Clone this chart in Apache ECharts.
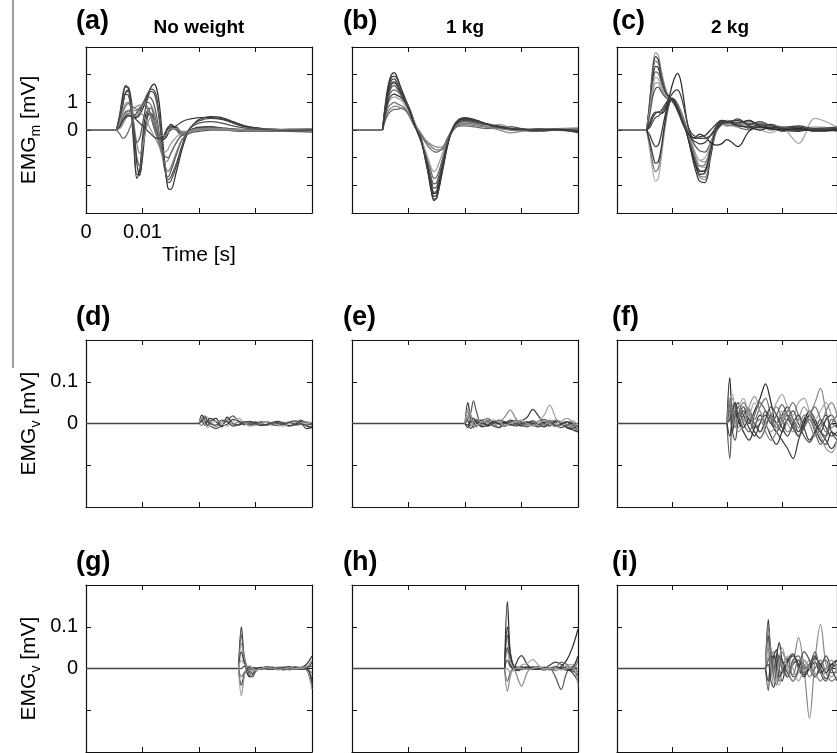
<!DOCTYPE html>
<html><head><meta charset="utf-8">
<script src="https://cdn.jsdelivr.net/npm/echarts@6/dist/echarts.min.js"></script>
<style>html,body{margin:0;padding:0;background:#fff}#c{width:837px;height:753px}</style>
</head><body><div id="c"></div>
<script>
// ---------- time grids (s), starting at stimulus onset ----------
const T1 = [0.0054, 0.006, 0.0065, 0.007, 0.0075, 0.008, 0.0085, 0.009, 0.0095, 0.010, 0.0105, 0.011, 0.0115, 0.012, 0.0125, 0.013, 0.0135, 0.014, 0.0145, 0.015, 0.016, 0.017, 0.018, 0.019, 0.020, 0.022, 0.024, 0.026, 0.028, 0.030, 0.033, 0.036, 0.040];
const T2 = [0.020, 0.0205, 0.021, 0.0215, 0.022, 0.023, 0.024, 0.025, 0.026, 0.027, 0.028, 0.029, 0.030, 0.031, 0.032, 0.033, 0.034, 0.035, 0.036, 0.037, 0.038, 0.039, 0.040];
const T3 = [0.027, 0.0275, 0.028, 0.0285, 0.029, 0.0295, 0.030, 0.031, 0.032, 0.033, 0.034, 0.035, 0.036, 0.037, 0.038, 0.039, 0.040];

// ---------- (a) No weight, EMG_m [mV] ----------
const tracesA = [
 [0, 0.6, 1.25, 1.6, 1.5, 0.7, -0.7, -1.75, -1.45, -0.3, 0.5, 0.7, 0.5, 0.15, -0.15, -0.3, -0.3, -0.15, 0.05, 0.2, 0.05, -0.15, -0.1, 0.0, 0.08, 0.12, 0.08, 0.04, 0.02, 0.0, -0.02, 0.0, 0.02],
 [0, 0.5, 1.15, 1.55, 1.55, 0.9, -0.4, -1.6, -1.6, -0.6, 0.3, 0.6, 0.45, 0.1, -0.2, -0.35, -0.3, -0.1, 0.1, 0.15, 0.0, -0.2, -0.15, -0.05, 0.0, 0.05, 0.05, 0.02, 0.0, -0.03, -0.05, -0.03, -0.05],
 [0, 0.4, 0.95, 1.35, 1.4, 0.95, 0.0, -1.0, -1.3, -0.7, 0.2, 0.7, 0.8, 0.5, 0.1, -0.2, -0.35, -0.3, -0.1, 0.05, 0.0, -0.15, -0.1, 0.0, 0.05, 0.1, 0.06, 0.03, 0.0, -0.02, 0.0, 0.02, 0.0],
 [0, 0.35, 0.9, 1.35, 1.45, 1.1, 0.1, -1.2, -1.65, -1.0, 0.0, 0.55, 0.6, 0.35, 0.0, -0.25, -0.35, -0.3, -0.15, 0.1, 0.1, -0.1, -0.05, 0.05, 0.1, 0.1, 0.05, 0.0, -0.02, -0.04, -0.02, 0.0, -0.03],
 [0, 0.15, 0.35, 0.5, 0.55, 0.5, 0.45, 0.45, 0.55, 0.75, 1.0, 1.3, 1.55, 1.66, 1.5, 0.9, -0.2, -1.3, -2.1, -2.15, -1.5, -0.7, -0.1, 0.2, 0.38, 0.48, 0.45, 0.3, 0.15, 0.08, 0.03, 0.0, 0.0],
 [0, 0.2, 0.45, 0.65, 0.7, 0.6, 0.5, 0.5, 0.65, 0.9, 1.15, 1.35, 1.48, 1.45, 1.2, 0.5, -0.5, -1.4, -1.9, -1.85, -1.3, -0.6, -0.05, 0.2, 0.33, 0.42, 0.38, 0.25, 0.12, 0.05, 0.0, -0.02, 0.0],
 [0, 0.1, 0.3, 0.5, 0.6, 0.6, 0.55, 0.6, 0.75, 0.95, 1.1, 1.2, 1.15, 0.95, 0.5, -0.2, -0.9, -1.5, -1.7, -1.5, -0.9, -0.35, -0.15, -0.08, -0.05, 0.0, 0.0, -0.03, -0.05, -0.05, -0.03, -0.05, -0.08],
 [0, 0.25, 0.6, 0.85, 0.95, 0.9, 0.8, 0.75, 0.8, 0.9, 1.0, 1.0, 0.9, 0.65, 0.25, -0.3, -0.85, -1.3, -1.5, -1.35, -0.8, -0.35, -0.15, 0.0, 0.05, 0.08, 0.05, 0.0, -0.02, -0.02, 0.0, 0.03, 0.05],
 [0, 0.2, 0.45, 0.6, 0.7, 0.75, 0.8, 0.85, 0.9, 0.9, 0.85, 0.7, 0.45, 0.15, -0.2, -0.6, -0.95, -1.15, -1.1, -0.85, -0.45, -0.2, -0.1, -0.05, 0.0, 0.05, 0.05, 0.02, 0.0, 0.0, -0.02, 0.0, -0.05],
 [0, 0.05, 0.2, 0.4, 0.55, 0.65, 0.7, 0.7, 0.65, 0.55, 0.4, 0.2, 0.0, -0.2, -0.4, -0.6, -0.75, -0.8, -0.7, -0.5, -0.25, -0.1, -0.05, 0.0, 0.02, 0.05, 0.02, 0.0, -0.02, -0.03, -0.02, 0.0, 0.02],
 [0, -0.15, -0.3, -0.25, -0.05, 0.2, 0.45, 0.65, 0.8, 0.9, 0.9, 0.8, 0.55, 0.2, -0.15, -0.5, -0.8, -0.95, -1.0, -0.85, -0.45, -0.15, -0.05, 0.0, 0.03, 0.05, 0.03, 0.0, -0.02, -0.05, -0.05, -0.03, 0.0],
 [0, 0.15, 0.35, 0.45, 0.5, 0.5, 0.45, 0.35, 0.25, 0.15, 0.05, -0.05, -0.15, -0.25, -0.3, -0.3, -0.25, -0.2, -0.1, 0.0, 0.15, 0.3, 0.38, 0.42, 0.45, 0.45, 0.4, 0.28, 0.15, 0.08, 0.03, 0.0, 0.02],
 [0, 0.3, 0.7, 0.95, 1.0, 0.75, 0.2, -0.5, -0.85, -0.6, -0.1, 0.3, 0.45, 0.35, 0.1, -0.1, -0.2, -0.2, -0.1, 0.05, 0.05, -0.05, -0.05, 0.0, 0.03, 0.05, 0.03, 0.0, 0.0, 0.02, 0.03, 0.02, 0.05],
 [0, 0.5, 1.0, 1.3, 1.25, 0.7, 0.0, -0.45, -0.3, 0.2, 0.75, 1.2, 1.4, 1.35, 1.0, 0.3, -0.6, -1.4, -1.8, -1.7, -1.2, -0.55, -0.05, 0.15, 0.25, 0.3, 0.25, 0.15, 0.08, 0.03, 0.0, 0.0, 0.0]
];

// ---------- (b) 1 kg ----------
const tracesB = [
 [0, 1.1, 1.7, 2.0, 2.07, 1.9, 1.6, 1.3, 1.05, 0.8, 0.5, 0.2, 0.0, -0.2, -0.6, -1.1, -1.6, -2.2, -2.55, -2.45, -1.5, -0.5, 0.15, 0.4, 0.45, 0.35, 0.2, 0.1, 0.05, 0.0, -0.05, 0.05, -0.1],
 [0, 1.0, 1.6, 1.9, 1.95, 1.85, 1.6, 1.35, 1.1, 0.85, 0.55, 0.25, 0.05, -0.15, -0.55, -1.0, -1.5, -2.05, -2.4, -2.35, -1.4, -0.45, 0.1, 0.35, 0.4, 0.3, 0.18, 0.12, 0.05, 0.02, 0.0, 0.02, -0.05],
 [0, 0.95, 1.5, 1.8, 1.85, 1.7, 1.45, 1.2, 1.0, 0.8, 0.55, 0.3, 0.05, -0.2, -0.5, -0.95, -1.45, -1.95, -2.25, -2.2, -1.3, -0.4, 0.1, 0.3, 0.35, 0.28, 0.2, 0.15, 0.08, 0.0, -0.05, 0.0, -0.08],
 [0, 0.9, 1.4, 1.7, 1.75, 1.65, 1.45, 1.25, 1.05, 0.85, 0.6, 0.3, 0.0, -0.25, -0.5, -0.9, -1.35, -1.8, -2.1, -2.05, -1.25, -0.35, 0.15, 0.35, 0.38, 0.3, 0.22, 0.1, 0.05, 0.02, 0.05, 0.03, 0.0],
 [0, 0.85, 1.3, 1.55, 1.6, 1.5, 1.35, 1.2, 1.05, 0.85, 0.6, 0.3, 0.0, -0.25, -0.5, -0.85, -1.25, -1.7, -1.95, -1.9, -1.15, -0.3, 0.1, 0.3, 0.32, 0.25, 0.15, 0.1, 0.12, 0.05, 0.0, 0.02, -0.05],
 [0, 0.8, 1.2, 1.4, 1.45, 1.4, 1.3, 1.15, 1.0, 0.85, 0.6, 0.3, 0.0, -0.25, -0.5, -0.8, -1.15, -1.5, -1.75, -1.7, -1.05, -0.3, 0.05, 0.25, 0.3, 0.25, 0.2, 0.08, 0.0, -0.03, 0.0, 0.05, 0.0],
 [0, 0.65, 1.0, 1.15, 1.2, 1.15, 1.1, 1.0, 0.85, 0.7, 0.5, 0.25, 0.0, -0.2, -0.45, -0.75, -1.05, -1.35, -1.5, -1.4, -0.85, -0.3, 0.05, 0.2, 0.25, 0.2, 0.15, 0.2, 0.1, 0.0, -0.02, 0.0, 0.02],
 [0, 0.55, 0.85, 0.95, 1.0, 0.95, 0.9, 0.85, 0.75, 0.6, 0.45, 0.25, 0.05, -0.1, -0.25, -0.4, -0.5, -0.6, -0.68, -0.72, -0.7, -0.35, 0.0, 0.2, 0.25, 0.2, 0.1, 0.05, 0.0, 0.0, 0.02, 0.05, 0.05],
 [0, 0.45, 0.7, 0.8, 0.85, 0.85, 0.8, 0.75, 0.7, 0.6, 0.45, 0.3, 0.1, -0.05, -0.2, -0.35, -0.45, -0.52, -0.58, -0.62, -0.62, -0.3, 0.05, 0.15, 0.2, 0.15, 0.1, 0.0, -0.1, -0.05, 0.0, 0.05, 0.08],
 [0, 0.4, 0.6, 0.7, 0.75, 0.75, 0.78, 0.8, 0.72, 0.55, 0.35, 0.15, 0.0, -0.15, -0.3, -0.45, -0.6, -0.7, -0.78, -0.8, -0.65, -0.25, 0.05, 0.15, 0.15, 0.1, 0.05, 0.1, 0.05, 0.0, -0.05, 0.0, 0.03],
 [0, 0.7, 1.1, 1.25, 1.3, 1.25, 1.2, 1.1, 0.95, 0.75, 0.5, 0.2, -0.05, -0.3, -0.6, -1.0, -1.5, -2.0, -2.3, -2.25, -1.35, -0.4, 0.1, 0.35, 0.4, 0.35, 0.2, 0.1, 0.05, 0.02, 0.0, 0.03, -0.03],
 [0, 0.9, 1.4, 1.65, 1.7, 1.6, 1.4, 1.2, 1.0, 0.8, 0.55, 0.25, 0.0, -0.2, -0.55, -1.05, -1.55, -2.1, -2.5, -2.45, -1.45, -0.45, 0.12, 0.38, 0.42, 0.32, 0.2, 0.12, 0.05, 0.03, 0.0, 0.0, -0.05]
];

// ---------- (c) 2 kg ----------
const tracesC = [
 [0, 1.2, 2.3, 2.8, 2.7, 2.2, 1.75, 1.4, 1.2, 1.05, 0.9, 0.75, 0.6, 0.4, 0.15, -0.2, -0.6, -1.0, -1.4, -1.7, -1.8, -0.9, 0.0, 0.3, 0.35, 0.25, 0.3, 0.15, 0.2, 0.1, 0.05, 0.1, 0.05],
 [0, 1.1, 2.15, 2.65, 2.55, 2.05, 1.6, 1.3, 1.15, 1.05, 0.95, 0.8, 0.6, 0.35, 0.05, -0.35, -0.8, -1.25, -1.6, -1.85, -1.9, -1.0, -0.05, 0.25, 0.3, 0.2, 0.35, 0.1, 0.05, 0.0, 0.05, -0.05, 0.0],
 [0, 1.0, 2.0, 2.5, 2.4, 1.95, 1.55, 1.3, 1.15, 1.1, 1.0, 0.85, 0.65, 0.4, 0.1, -0.25, -0.65, -1.05, -1.4, -1.65, -1.7, -0.85, 0.05, 0.3, 0.25, 0.3, 0.2, 0.25, 0.1, 0.05, 0.1, 0.05, 0.02],
 [0, 0.9, 1.8, 2.3, 2.25, 1.85, 1.5, 1.3, 1.2, 1.1, 0.95, 0.75, 0.5, 0.25, 0.0, -0.35, -0.75, -1.1, -1.4, -1.6, -1.55, -0.7, 0.1, 0.35, 0.3, 0.2, 0.1, 0.2, 0.05, 0.0, -0.05, 0.05, 0.0],
 [0, 0.85, 1.65, 2.1, 2.05, 1.75, 1.45, 1.25, 1.15, 1.1, 1.0, 0.85, 0.65, 0.4, 0.1, -0.25, -0.6, -0.95, -1.25, -1.45, -1.5, -0.8, -0.1, 0.2, 0.3, 0.15, 0.25, 0.05, 0.1, -0.05, 0.0, 0.05, -0.05],
 [0, 0.75, 1.5, 1.9, 1.85, 1.6, 1.35, 1.2, 1.1, 1.05, 0.95, 0.8, 0.6, 0.4, 0.15, -0.15, -0.45, -0.8, -1.1, -1.3, -1.35, -0.75, -0.05, 0.25, 0.2, 0.3, 0.1, 0.0, -0.1, 0.05, -0.48, 0.42, 0.1],
 [0, 0.7, 1.35, 1.7, 1.7, 1.5, 1.3, 1.15, 1.1, 1.05, 0.95, 0.8, 0.6, 0.35, 0.1, -0.15, -0.4, -0.7, -0.95, -1.1, -1.15, -0.6, 0.0, 0.2, 0.15, 0.25, 0.15, 0.1, 0.15, 0.05, 0.1, 0.0, 0.05],
 [0, 0.6, 1.2, 1.5, 1.55, 1.4, 1.25, 1.15, 1.1, 1.05, 0.9, 0.7, 0.5, 0.3, 0.1, -0.1, -0.3, -0.5, -0.65, -0.75, -0.8, -0.45, 0.0, 0.25, 0.3, 0.1, 0.0, 0.2, 0.05, 0.0, 0.05, -0.05, 0.0],
 [0, -0.8, -1.5, -1.85, -1.75, -1.1, -0.3, 0.4, 0.9, 1.1, 1.1, 0.95, 0.7, 0.4, 0.1, -0.2, -0.5, -0.8, -1.0, -1.1, -1.0, -0.5, 0.05, 0.3, 0.2, 0.1, 0.2, 0.05, 0.1, 0.0, 0.05, 0.1, 0.05],
 [0, -0.6, -1.2, -1.5, -1.4, -0.85, -0.15, 0.5, 0.95, 1.15, 1.1, 0.95, 0.75, 0.5, 0.2, -0.15, -0.5, -0.85, -1.15, -1.3, -1.25, -0.6, 0.1, 0.3, 0.15, 0.2, 0.05, 0.15, 0.0, 0.05, 0.0, 0.05, 0.0],
 [0, -0.45, -0.9, -1.2, -1.15, -0.7, 0.0, 0.6, 1.0, 1.15, 1.05, 0.85, 0.6, 0.3, 0.0, -0.35, -0.7, -1.05, -1.35, -1.5, -1.45, -0.75, 0.0, 0.25, 0.3, 0.15, 0.1, 0.0, 0.1, 0.05, 0.0, 0.0, 0.05],
 [0, -0.2, -0.45, -0.6, -0.55, -0.2, 0.3, 0.75, 1.05, 1.1, 0.95, 0.7, 0.45, 0.2, 0.0, -0.15, -0.25, -0.3, -0.3, -0.25, -0.2, 0.0, 0.2, 0.35, 0.3, 0.25, 0.35, 0.15, 0.05, 0.0, 0.05, 0.0, 0.02],
 [0, 0.2, 0.45, 0.6, 0.65, 0.6, 0.65, 0.85, 1.2, 1.6, 1.9, 2.05, 1.85, 1.3, 0.6, 0.05, -0.2, -0.28, -0.22, -0.15, -0.25, -0.45, -0.55, -0.5, -0.35, -0.6, -0.05, 0.1, 0.05, 0.0, 0.05, 0.0, 0.0],
 [0, 0.1, 0.3, 0.45, 0.5, 0.6, 0.75, 0.95, 1.15, 1.3, 1.42, 1.45, 1.3, 0.95, 0.5, 0.1, -0.1, -0.2, -0.25, -0.3, -0.3, -0.2, 0.0, 0.2, 0.3, 0.35, 0.2, 0.3, 0.15, 0.1, 0.15, 0.05, 0.1],
 [0, 0.3, 0.55, 0.65, 0.65, 0.7, 0.85, 1.0, 1.1, 1.1, 1.0, 0.8, 0.55, 0.3, 0.05, -0.15, -0.3, -0.4, -0.45, -0.5, -0.45, -0.2, 0.1, 0.3, 0.25, 0.4, 0.15, 0.1, 0.2, 0.05, 0.1, 0.0, 0.05]
];

// ---------- (d) No weight, EMG_v [mV] ----------
const tracesD = [
 [0, .02, .008, -.005, .005, .012, -.008, .015, .0, -.004, .002, .0, -.003, .002, .004, -.002, -.005, .0, .003, -.002, .005, -.006, -.008],
 [0, .012, .018, .005, -.006, -.012, -.005, .008, .018, .005, -.003, .002, .004, -.002, -.004, .0, .002, -.003, -.006, .0, .008, .002, -.004],
 [0, -.005, .01, .015, .004, -.008, .003, .006, -.002, .004, .003, -.002, .0, .005, .002, -.004, -.002, .003, .0, -.004, -.002, .004, .002],
 [0, .008, -.004, .006, .012, .004, -.006, -.002, .01, .006, .0, -.004, .002, .0, -.003, .003, .005, .0, -.005, -.003, .0, -.012, -.01],
 [0, .015, .0, -.01, -.004, .006, .0, -.006, .004, .012, .002, -.006, -.004, .0, .004, .002, -.004, -.006, .0, .004, .002, -.002, .003],
 [0, .005, .014, .008, .0, -.004, .008, .004, -.006, -.002, .004, .005, .0, -.005, -.002, .002, .0, -.002, .003, .006, .0, -.004, .0]
];

// ---------- (e) 1 kg ----------
const tracesE = [
 [0, .05, .01, -.01, .0, .008, -.005, .004, .0, -.006, .008, .004, -.004, .0, .006, -.002, -.008, .0, .005, .0, -.01, -.015, -.02],
 [0, .01, .025, .054, .03, -.005, .008, .0, -.01, .004, .002, .006, -.004, -.008, .0, .005, .01, .002, -.006, .0, .004, -.004, -.01],
 [0, .03, -.005, .006, .01, .0, .006, -.004, .002, .015, .032, .012, -.002, .004, .0, -.006, .002, .008, .0, -.005, .003, -.008, -.012],
 [0, -.01, .008, .004, -.006, .002, -.006, .0, .008, .004, -.004, .0, .006, .015, .034, .018, .0, -.006, .004, .0, -.008, -.012, -.006],
 [0, .02, .005, -.008, .004, .01, .0, -.004, .006, .0, -.005, .004, .002, -.004, .0, .006, .02, .044, .015, -.004, .002, .006, -.004],
 [0, .006, -.012, -.004, .008, .0, .004, -.006, -.01, .0, .006, -.002, -.006, .002, -.004, -.008, .0, .004, -.004, -.01, -.004, .002, -.01],
 [0, .015, .02, .0, -.006, .006, .012, .004, -.002, -.006, .0, .008, .002, -.004, .004, .0, -.004, .002, .008, .004, -.002, -.01, -.016],
 [0, -.004, .004, .012, .004, -.008, -.004, .004, .0, .002, -.002, -.006, .0, .004, .0, -.002, .004, .0, -.006, -.002, .004, .0, -.008],
 [0, .035, .02, -.004, -.008, .004, .002, .008, .004, -.004, .0, .005, .008, .0, -.006, .0, .006, .0, -.008, .004, .012, .004, -.012]
];

// ---------- (f) 2 kg ----------
const tracesF = [
 [0, .11, .03, .05, .02, .04, .0, .03, .06, .095, .05, .0, .02, .04, .01, -.02, .01, .03, .0, -.02, .01, .02, -.01],
 [0, -.084, .03, .045, .0, .02, .035, -.01, .0, .03, .01, -.02, .0, .02, .0, -.03, -.01, .02, .01, -.02, -.03, .0, -.01],
 [0, .04, .06, .02, -.01, .01, .03, .0, -.02, .0, .02, .04, .01, -.02, -.01, .01, .0, .02, .05, .084, .03, -.01, .0],
 [0, .02, -.02, .03, .05, .02, -.01, -.03, .0, .02, .0, -.02, -.04, -.06, -.084, -.04, .0, .03, .01, -.02, -.04, -.06, -.04],
 [0, .05, .07, .03, .04, .06, .02, .05, .03, .0, .02, .05, .07, .04, .02, .05, .06, .03, .01, .03, .05, .02, .0],
 [0, .03, -.02, -.04, .0, .03, .01, -.02, -.035, -.01, .02, .0, -.02, .01, .03, .0, -.03, -.045, -.02, .01, -.01, -.03, -.02],
 [0, .06, .04, .0, .02, .05, .03, .01, .04, .06, .02, -.01, .01, .03, .05, .02, .0, .02, .04, .01, -.02, .0, .02],
 [0, -.03, .01, .03, .01, -.02, -.04, -.01, .02, .0, -.03, -.05, -.02, .01, -.01, -.03, .0, .02, -.01, -.04, -.05, -.02, -.03],
 [0, .02, .04, .01, -.02, .0, .04, .065, .03, .0, -.02, .0, .03, .0, -.02, .01, .04, .02, -.01, -.03, -.06, -.07, -.04],
 [0, .045, .0, .02, .04, .0, -.02, .02, .05, .03, .0, .02, .045, .02, -.01, -.03, -.01, .01, -.02, -.05, -.03, .01, .0],
 [0, .01, .03, .05, .02, -.01, .01, .0, -.02, .01, .04, .02, -.01, -.03, .0, .02, -.01, -.04, -.02, .0, .02, -.02, -.04],
 [0, .055, .02, -.01, .01, .04, .02, .0, .01, -.02, -.04, -.02, .01, .03, .01, -.01, .02, .0, -.03, -.01, .03, .05, .02]
];

// ---------- (g) No weight ----------
const tracesG = [
 [0, .1, .02, -.01, -.02, -.015, -.005, .0, .003, .0, -.002, .002, .004, .0, .002, .01, .03],
 [0, .08, .03, .0, -.018, -.02, -.008, .002, .0, -.002, .0, .003, .0, -.002, .0, .005, -.04],
 [0, .06, .025, .005, -.012, -.018, -.006, .003, .002, .0, -.003, .0, .002, .003, .0, -.003, -.05],
 [0, .04, .015, .0, -.008, -.012, -.004, .0, .004, .002, .0, -.002, .0, .004, .002, .0, .015],
 [0, .02, .01, .002, -.004, -.008, -.002, .002, .0, -.002, .002, .004, -.002, .0, .003, .0, -.02],
 [0, .0, .005, .004, .0, -.004, .0, -.002, .002, .003, .0, -.003, .0, .002, -.002, .003, .005],
 [0, -.02, -.01, -.005, -.002, .0, .002, .0, -.002, .0, .003, .0, -.003, .0, .002, -.002, -.01],
 [0, -.04, -.015, .0, .004, .002, .0, .002, .0, -.002, .0, .002, .004, .0, -.002, .0, -.03],
 [0, -.065, -.02, .005, .006, .0, -.004, .0, .002, .0, -.002, .0, .002, .0, .0, .004, .02]
];

// ---------- (h) 1 kg ----------
const tracesH = [
 [0, .16, .035, .005, -.005, .0, .004, .0, .002, .004, .0, -.002, .0, .005, .02, .05, .094],
 [0, .08, .02, .0, .005, .002, .0, .004, .002, .0, -.004, .0, -.02, -.05, -.01, .005, -.01],
 [0, -.054, -.02, .0, -.01, -.03, -.042, -.01, .005, .0, .003, .0, -.005, .0, .004, .0, -.02],
 [0, .05, .01, .0, .01, .025, .031, .01, .0, .004, .0, .008, .015, .01, .0, -.01, -.03],
 [0, .04, .015, .005, .0, .004, .008, .012, .022, .008, .0, .002, .005, .0, .008, .01, .0],
 [0, .02, .005, .0, -.003, .0, .003, .0, -.002, .0, .002, -.002, .0, .003, .0, -.005, -.015],
 [0, -.03, -.01, .0, .003, .0, -.003, .0, .004, .002, .0, -.003, .0, .015, .01, -.005, .02],
 [0, .1, .04, .01, .0, -.005, .0, .003, .0, -.002, .002, .0, .004, .0, -.004, .0, .03],
 [0, .0, -.01, -.005, .0, .002, .0, -.002, .0, .003, .0, .0, .002, -.003, .0, .002, -.04]
];

// ---------- (i) 2 kg ----------
const tracesI = [
 [0, .117, .02, -.01, .03, .062, .02, -.02, .01, .02, -.01, .0, .015, -.01, .0, .01, .0],
 [0, -.053, .03, .04, -.01, -.03, .0, .025, -.02, -.01, .02, .0, -.02, .01, .02, -.01, -.01],
 [0, .05, .0, .02, -.01, .0, .02, -.02, .01, .074, .0, -.119, .02, .105, .01, -.02, .0],
 [0, .08, -.02, .03, .045, .0, -.03, .02, .035, .0, -.02, .01, .03, .0, -.025, .0, .02],
 [0, .03, .05, .0, -.03, -.04, .0, .03, .0, -.03, .0, .02, -.01, -.03, .0, .02, -.01],
 [0, .01, -.03, -.045, .0, .03, .02, -.01, -.03, .0, .04, .02, -.02, .0, .03, .0, -.03],
 [0, .1, .04, -.02, -.04, .0, .04, .01, -.015, .02, .01, -.02, .0, .02, -.01, -.03, -.02],
 [0, -.03, .02, .03, .01, -.02, -.01, .015, .03, .01, -.015, .0, .025, .01, -.01, .01, .02],
 [0, .06, .0, -.035, -.02, .02, .05, .0, -.03, -.01, .02, .0, -.015, -.03, .0, .02, .0],
 [0, .02, .03, .0, .02, .03, .0, -.02, .02, .03, .0, .01, .04, -.01, -.03, .0, .01]
];

// ---------- labels ----------
const panelLetters = ['(a)', '(b)', '(c)', '(d)', '(e)', '(f)', '(g)', '(h)', '(i)'];
const columnTitles = ['No weight', '1 kg', '2 kg'];
const rowSub = ['m', 'v', 'v'];
const xTickLabels = ['0', '0.01'];
const yTickLabelsRow = [['0', '1'], ['0', '0.1'], ['0', '0.1']];
const yRanges = [{min: -3, max: 3, interval: 1}, {min: -0.2, max: 0.2, interval: 0.1}, {min: -0.2, max: 0.2, interval: 0.1}];

// ---------- style ----------
const FONT = "'Liberation Sans', Arial, Helvetica, sans-serif";
const GRAYS = ['#2e2e2e', '#5a5a5a', '#8c8c8c', '#404040', '#a8a8a8', '#4d4d4d', '#737373', '#363636', '#9a9a9a', '#626262', '#454545', '#808080', '#b4b4b4', '#333333', '#6a6a6a'];
const shadesA = ['#333', '#444', '#666', '#3a3a3a', '#2e2e2e', '#4a4a4a', '#555', '#777', '#888', '#999', '#6a6a6a', '#3d3d3d', '#8a8a8a', '#505050'];
const shadesB = ['#2e2e2e', '#3a3a3a', '#444', '#4d4d4d', '#555', '#666', '#a0a0a0', '#777', '#888', '#6a6a6a', '#333', '#3d3d3d'];
const shadesC = ['#9a9a9a', '#333', '#777', '#2e2e2e', '#666', '#aaa', '#999', '#555', '#b0b0b0', '#777', '#333', '#3a3a3a', '#2a2a2a', '#444', '#3d3d3d'];
const colLeft = [86, 352, 617];
const rowTop = [47, 340, 585];
const boxW = 226;
const boxH = [166, 167, 167];

const panels = [
  {T: T1, tr: tracesA, sh: shadesA}, {T: T1, tr: tracesB, sh: shadesB}, {T: T1, tr: tracesC, sh: shadesC},
  {T: T2, tr: tracesD, sh: GRAYS}, {T: T2, tr: tracesE, sh: GRAYS}, {T: T2, tr: tracesF, sh: GRAYS},
  {T: T3, tr: tracesG, sh: GRAYS}, {T: T3, tr: tracesH, sh: GRAYS}, {T: T3, tr: tracesI, sh: GRAYS}
];

const grid = [], xAxis = [], yAxis = [], series = [];
const near = (a, b) => Math.abs(a - b) < 1e-9;

panels.forEach((p, i) => {
  const row = Math.floor(i / 3), col = i % 3;
  grid.push({left: colLeft[col], top: rowTop[row], width: boxW, height: boxH[row], containLabel: false});
  ['bottom', 'top'].forEach(pos => {
    const withLabels = (i === 0 && pos === 'bottom');
    xAxis.push({
      type: 'value', gridIndex: i, position: pos, min: 0, max: 0.04, interval: 0.01,
      axisLine: {show: true, onZero: false, lineStyle: {color: '#111', width: 1.2}},
      axisTick: {show: true, inside: true, length: 5, lineStyle: {color: '#111', width: 1}},
      splitLine: {show: false},
      axisLabel: {
        show: withLabels, color: '#000', fontSize: 20, fontFamily: FONT, margin: 9,
        formatter: v => xTickLabels.find(s => near(parseFloat(s), v)) || ''
      }
    });
  });
  ['left', 'right'].forEach(pos => {
    const withLabels = (col === 0 && pos === 'left');
    yAxis.push({
      type: 'value', gridIndex: i, position: pos,
      min: yRanges[row].min, max: yRanges[row].max, interval: yRanges[row].interval,
      axisLine: {show: true, onZero: false, lineStyle: {color: '#111', width: 1.2}},
      axisTick: {show: true, inside: true, length: 5, lineStyle: {color: '#111', width: 1}},
      splitLine: {show: false},
      axisLabel: {
        show: withLabels, color: '#000', fontSize: 20, fontFamily: FONT, margin: 8,
        formatter: v => yTickLabelsRow[row].find(s => near(parseFloat(s), v)) || ''
      }
    });
  });
  // flat pre-onset baseline
  series.push({
    type: 'line', xAxisIndex: 2 * i, yAxisIndex: 2 * i, data: [[0, 0], [p.T[0], 0]],
    showSymbol: false, silent: true, lineStyle: {color: '#444', width: 1.3}
  });
  p.tr.forEach((vals, k) => {
    const n = Math.min(vals.length, p.T.length);
    const data = [];
    for (let j = 0; j < n; j++) data.push([p.T[j], vals[j]]);
    series.push({
      type: 'line', xAxisIndex: 2 * i, yAxisIndex: 2 * i, data,
      showSymbol: false, silent: true, smooth: 0.35, clip: true,
      lineStyle: {color: p.sh[k % p.sh.length], width: 1.25}
    });
  });
});

// ---------- text ----------
const graphic = [
  {type: 'line', shape: {x1: 13, y1: 0, x2: 13, y2: 368}, style: {stroke: '#808080', lineWidth: 1.5}, silent: true}
];
const letterY = [22, 318, 563];
const letterX = [76, 343, 612];
panelLetters.forEach((t, i) => {
  graphic.push({type: 'text', x: letterX[i % 3], y: letterY[Math.floor(i / 3)], silent: true,
    style: {text: t, font: 'bold 27px ' + FONT, fill: '#000', align: 'left', verticalAlign: 'middle', textAlign: 'left', textVerticalAlign: 'middle'}});
});
columnTitles.forEach((t, c) => {
  graphic.push({type: 'text', x: colLeft[c] + boxW / 2, y: 28, silent: true,
    style: {text: t, font: 'bold 19px ' + FONT, fill: '#000', align: 'center', verticalAlign: 'middle', textAlign: 'center', textVerticalAlign: 'middle'}});
});
graphic.push({type: 'text', x: colLeft[0] + boxW / 2, y: 255, silent: true,
  style: {text: 'Time [s]', font: '21px ' + FONT, fill: '#000', align: 'center', verticalAlign: 'middle', textAlign: 'center', textVerticalAlign: 'middle'}});
rowSub.forEach((s, r) => {
  graphic.push({type: 'text', x: 29, y: rowTop[r] + boxH[r] / 2, rotation: Math.PI / 2, silent: true,
    style: {
      text: '{a|EMG}{s|' + s + '}{a| [mV]}',
      align: 'center', verticalAlign: 'middle', textAlign: 'center', textVerticalAlign: 'middle',
      rich: {
        a: {fontSize: 21, fontFamily: FONT, fill: '#000', lineHeight: 28, verticalAlign: 'middle'},
        s: {fontSize: 14, fontFamily: FONT, fill: '#000', lineHeight: 13, verticalAlign: 'bottom'}
      }
    }});
});

const chart = echarts.init(document.getElementById('c'), null, {renderer: 'canvas'});
chart.setOption({
  animation: false,
  backgroundColor: '#fff',
  grid, xAxis, yAxis, series, graphic
});
</script>
</body></html>
